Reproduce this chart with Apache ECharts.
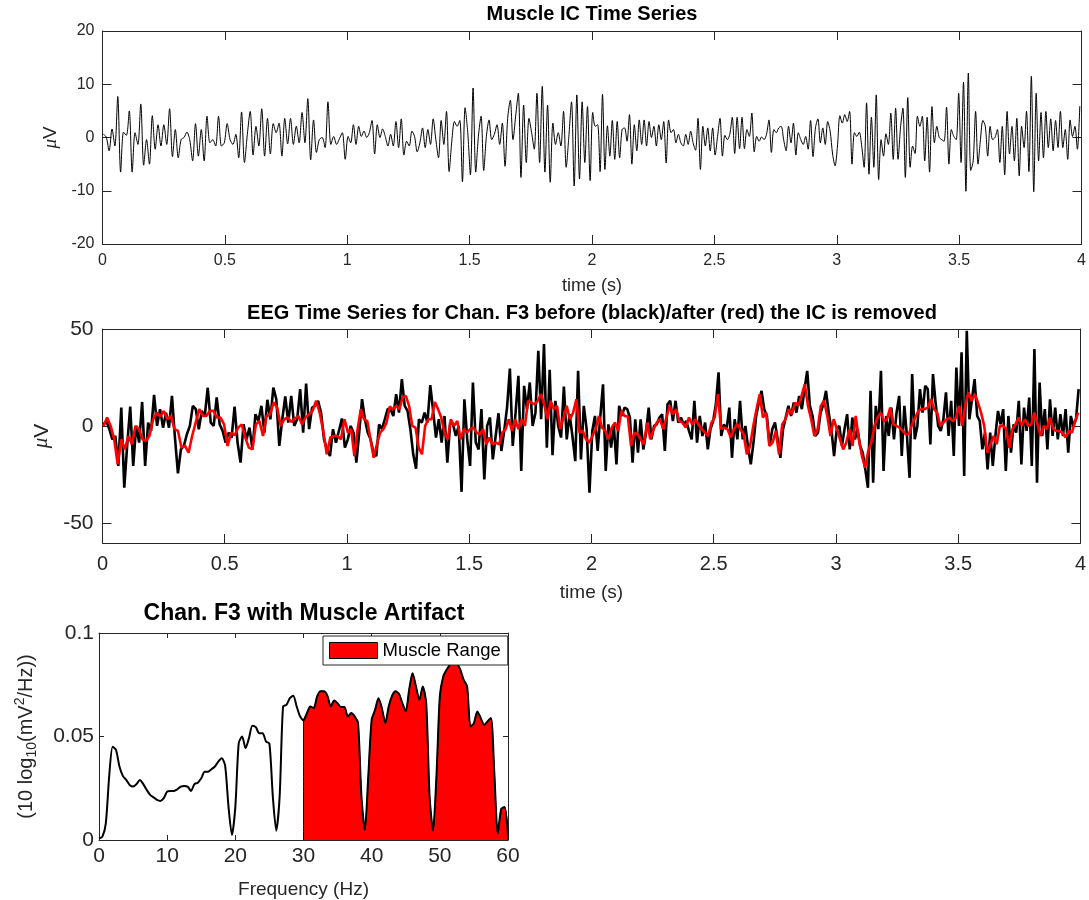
<!DOCTYPE html>
<html>
<head>
<meta charset="utf-8">
<title>Muscle IC and EEG</title>
<script src="https://cdn.jsdelivr.net/npm/echarts@6/dist/echarts.min.js"></script>
<style>
  html, body { margin: 0; padding: 0; background: #fff; }
  #chart { width: 1089px; height: 900px; }
</style>
</head>
<body>
<div id="chart"></div>
<script>
// ---------- data ----------
// Muscle IC activation (µV), one array per second of signal, samples evenly spaced in time
const icSec1 = [0.6,0.1,-2.5,1.6,-1.6,7.7,-6.5,1.0,0.4,5.0,-6.5,0.9,-1.3,6.3,-5.2,-0.4,-5.0,4.1,-2.2,2.4,-1.6,2.4,-1.3,5.4,-3.6,1.5,-3.8,-0.4,0,1.0,-0.4,-4.4,2.6,-3.5,1.5,-4.4,4.0,-1.0,-0.4,-1.6,4.0,-1.6,-1.0,2.6,-0.4,-1.3,0.6,-3.8,4.8,-4.7,0.6,4.9,-3.3,2.1,-1.6,5.4,-3.5,3.6,-3.1,2.6,0.9,2.7,-3.5,3.6,-1.2,3.6,-1.3,2.1,-1.0,4.7,-1.0,7.3,-4.2,3.3,-2.8,-0.4,0,-1.9,6.7,-1.3,0.2,-1.3,-0.2,0.9,-4.1];
const icSec2 = [0.2,-1.0,2.4,-1.3,2.1,0.2,1.2,0,0.9,3.2,-3.1,2.4,0,1.6,0.2,-1.6,0.6,-1.6,3.0,-1.9,3.5,-3.3,-0.7,-1.6,1.2,0.2,-2.7,-1.0,1.8,-1.9,1.5,-1.3,3.5,-0.4,-3.8,3.2,-1.3,4.9,-6.4,-0.7,3.0,2.1,3.2,-8.3,5.6,0.9,-7.0,9.3,-6.5,0.2,4.0,-6.2,0.2,3.3,-0.4,0.6,2.4,-1.3,2.7,-5.4,3.6,7.0,-0.4,4.0,8.3,-7.5,6.1,-4.7,3.6,0.9,-2.2,8.3,-4.7,9.6,-6.5,6.1,-8.4,2.7,-1.3,0.9,-1.6,4.9,-5.6,0.2,6.7,-9.1,8.0,-7.8,6.7,-4.7,5.8,-8.1];
const icSec3 = [4.7,2.1,2.4,-6.4,8.1,-6.0,2.2,-3.5,3.2,-4.1,3.0,-3.8,1.5,1.8,-0.7,4.3,-5.0,2.4,-2.5,3.3,-1.3,3.3,-1.6,3.0,0,2.1,-1.6,2.4,-0.4,3.0,-4.8,3.3,0.9,1.5,-1.0,0.6,-1.0,-1.6,0.6,-1.3,1.2,-1.0,-2.4,3.6,-6.0,2.1,-1.6,1.8,-2.5,1.8,-3.3,0.2,3.6,-3.5,0.4,-0.4,0.6,3.8,-3.0,3.8,-2.1,3.8,-2.1,1.5,0.2,4.6,-2.7,0.2,-0.7,0.1,-0.4,0.6,3.3,-2.8,1.5,0.9,1.8,2.1,-0.4,-2.5,2.1,-1.0,2.7,-3.3,0.9,-0.4,-1.3,0.2,-2.2,3.2,-3.6,1.8,3.5,-1.0,1.8,-1.3,3.0,1.2,-3.1,-5.3];
const icSec4 = [-1.6,4.1,2.7,4.3,3.0,4.9,-5.0,0.9,0.2,1.0,-1.6,-5.6,6.5,-6.9,3.8,-5.6,8.0,-7.9,-0.4,-3.5,0.7,-1.3,4.6,-4.1,5.5,-4.1,1.8,5.5,-7.5,7.5,-5.6,-1.6,-3.0,4.0,2.1,4.0,-4.4,3.8,-6.5,5.8,-1.0,2.1,0,-0.4,-0.7,5.7,-5.0,1.5,0.2,-0.4,8.3,-4.7,10.4,-10.1,12.1,-6.2,-4.4,4.9,-5.0,-0.4,3.2,2.1,-3.5,2.1,-0.4,0,1.5,-4.7,2.1,-7.0,4.9,-3.1,2.1,-4.4,3.6,-7.2,2.1,-1.9,4.9,-6.4,11.5,-10.2,8.3,-4.4,4.7,-3.8,4.9,-1.9,3.5,-2.5,3.2,-1.9,4.9,-1.9,1.5,-4.1,3.3,0.2,2.1,-2.2,5.9];

// Channel F3 before IC removal (µV)
const f3BeforeSec1 = [1.0,2.7,-1.5,-6.7,-5.0,-20.4,9.6,-31.6,-9.3,10.1,-20.4,0.2,-8.4,12.5,-20.4,1.9,-2.4,16.2,0.2,8.8,-0.7,7.0,-0.7,15.6,-5.8,-24.2,-11.9,-10.1,-4.1,0.2,10.5,8.8,-1.5,7.9,5.3,19.8,1.9,0.2,14.8,1.0,-2.4,-8.4,-3.3,-5.8,10.1,-8.4,-18.7,1.0,-6.7,-0.7,-11.9,6.2,2.7,10.5,-3.3,13.6,3.6,19.9,13.9,-10.1,3.6,15.3,1.9,15.6,0.2,3.6,19.1,-3.3,22.0,-1.5,9.6,10.5,13.1,7.0,-6.7,-11.9,-15.3,-1.5,-8.4,-2.4,4.0,-11.0];
const f3BeforeSec2 = [-6.7,0.2,-3.3,-18.7,-3.3,13.9,3.6,-3.3,-6.7,-13.6,-15.3,1.0,-1.5,3.6,8.8,8.8,5.3,16.5,7.0,24.2,10.5,7.9,-1.5,-14.4,-21.8,3.6,1.9,7.0,1.9,21.1,7.9,-5.8,3.6,-8.4,5.3,-18.7,1.9,1.0,-5.0,0.2,-33.7,13.9,-6.7,-20.4,22.5,-8.4,-11.9,8.8,-27.3,0.2,4.5,-17.0,-5.0,6.7,-12.7,-2.4,9.6,29.7,-10.1,7.0,25.9,-23.0,20.8,8.8,22.5,0.2,7.0,38.8,3.6,42.3,-11.0,29.0,-14.9,13.1,0.2,-5.8,20.4,-6.7,6.2,-5.0,-17.9,28.5,-17.0,10.5,-1.5,-34.2];
const f3BeforeSec3 = [-2.4,5.3,-12.7,5.3,21.6,-23.0,1.0,-11.0,1.0,-19.6,10.5,5.3,9.6,8.8,4.5,-18.7,3.6,-13.6,3.6,-11.9,-3.3,9.6,-6.7,0.2,1.0,4.5,6.2,-12.7,11.3,13.1,2.7,13.1,1.9,4.5,1.0,2.7,-2.4,-6.7,13.1,-8.4,5.3,-5.0,1.9,-11.9,-1.5,2.7,11.3,27.7,-5.0,1.0,-1.5,9.6,-16.2,3.6,-6.7,13.1,-6.7,0.2,-11.0,-19.6,-8.4,5.3,12.2,18.2,8.8,5.3,-10.1,-1.5,1.9,-6.7,-16.2,-1.5,4.5,10.5,5.3,12.2,7.0,15.6,8.8,19.1,28.5,10.5,5.3,-5.0,-3.3,7.0,11.3,18.2,7.0,-1.5,-15.3];
const f3BeforeSec4 = [-1.5,0.2,-10.1,-1.5,6.2,-11.9,4.5,-6.7,-1.5,-10.1,-13.6,-22.2,-31.6,18.2,-29.0,10.5,-1.5,28.5,-23.0,5.3,-5.0,9.6,-6.7,7.0,15.6,-15.3,10.5,-5.0,-26.5,26.8,-6.7,0.2,19.1,7.0,20.8,19.1,-9.3,26.8,12.2,0.2,-2.4,3.6,17.4,-5.0,13.1,-15.3,30.2,0.2,38.0,-25.6,49.1,3.6,13.9,24.2,5.3,2.7,-11.9,-3.3,-22.2,-3.3,-20.4,-5.0,7.9,1.0,8.8,-23.0,5.3,-13.6,1.0,-3.3,13.1,-19.6,9.6,-2.4,14.8,-20.4,39.7,-29.0,22.5,-5.0,8.8,-11.9,13.9,-5.0,9.6,-6.7,6.2,-5.0,8.8,-13.6,5.3,0.2,3.6,19.1];

// Channel F3 after IC removal (µV)
const f3AfterSec1 = [0.2,4.5,0.2,-6.7,-19.6,-6.7,-11.9,-5.0,-9.3,0.2,-1.5,-6.7,-7.6,-4.6,3.6,7.0,5.0,7.9,3.6,5.3,-1.5,-2.4,-11.0,-10.1,-13.6,-5.0,1.9,8.8,5.3,5.3,7.9,7.9,4.5,4.5,1.0,-10.1,-3.3,-4.6,-0.7,1.0,-5.8,-11.0,-11.9,1.0,2.7,-5.0,5.3,6.2,12.2,9.6,0.2,3.6,4.5,2.2,4.0,5.3,1.0,4.5,6.2,7.9,13.1,7.0,-2.4,-14.4,-5.8,-5.0,-5.0,-6.7,3.6];
const f3AfterSec2 = [-3.3,-1.5,-15.3,-1.5,8.8,3.6,2.7,-6.7,-16.2,-9.3,-3.3,-1.5,1.9,10.1,8.8,10.5,8.8,14.8,15.6,10.5,0.2,-0.7,-11.0,-14.4,0.2,3.6,3.6,12.5,8.8,4.5,-3.3,-6.7,3.6,0.2,2.7,-6.7,-1.5,-3.3,-1.5,-0.7,-3.3,-4.1,-1.5,-9.3,-5.8,-9.3,-8.4,-9.3,-3.3,-1.5,3.6,-2.4,3.6,-1.5,3.6,0.2,13.1,12.2,11.3,13.1,16.5,11.3,3.6,13.1,8.8,10.5,-1.5,4.5,10.5,3.6,7.0,13.9,-3.3,-2.4,-6.7,-8.4];
const f3AfterSec3 = [-5.0,-1.5,5.3,-0.7,-2.4,-6.7,-0.7,1.9,-2.4,7.9,5.3,5.0,-10.1,-3.3,-4.1,-6.7,-9.3,1.9,-6.7,-1.5,1.9,3.6,-1.5,4.5,10.5,6.2,8.8,2.7,1.9,-0.7,4.5,1.0,3.6,1.0,-1.5,-3.3,-5.0,1.9,4.5,16.5,-1.5,-0.7,-1.5,-5.8,-1.5,1.0,-1.5,-4.1,-14.4,-10.1,0.2,8.8,16.5,4.5,7.0,-10.1,-8.4,-2.4,-14.4,1.0,3.6,8.8,6.2,12.2,10.5,15.6,21.6,10.5,3.6,-5.0,-1.5,10.5,13.1,5.3,-5.0,3.6];
const f3AfterSec4 = [-1.5,-6.7,-11.9,-8.4,-1.5,-10.1,5.3,-6.7,-15.3,-21.3,-12.7,-8.4,0.2,4.5,7.0,2.7,3.6,9.6,1.0,0.2,-0.7,-2.4,-4.1,-4.1,1.0,4.5,7.9,8.8,8.8,9.6,13.9,8.8,7.0,0.2,1.9,3.6,4.5,2.7,4.5,10.5,0.2,11.3,17.4,13.1,16.5,12.2,7.0,0.2,-13.6,-9.3,-5.0,-9.3,0.2,0.2,-1.5,-11.0,-1.5,1.0,4.5,0.2,3.6,0.2,1.0,7.0,1.0,-5.0,0.2,-1.5,4.5,-1.5,-2.4,-2.4,-3.3,-5.8,-2.4,-3.3,2.7,7.0];

// Power spectrum of F3, 0–60 Hz in 0.5 Hz bins
const specStepHz = 0.5;
const specPower = [0.0008,0.0016,0.008,0.031,0.045,0.0435,0.0355,0.031,0.029,0.0266,0.0258,0.027,0.029,0.027,0.0242,0.0218,0.0206,0.0194,0.0189,0.0202,0.0234,0.0237,0.0237,0.0245,0.0258,0.0261,0.0258,0.0237,0.027,0.0277,0.0298,0.033,0.033,0.0342,0.0355,0.0379,0.0395,0.036,0.016,0.0024,0.016,0.0468,0.05,0.0444,0.0492,0.0552,0.0545,0.0516,0.0516,0.0476,0.0465,0.021,0.0045,0.021,0.0645,0.0653,0.0685,0.0697,0.0645,0.0597,0.0577,0.0613,0.0645,0.0637,0.0694,0.0718,0.0718,0.0697,0.0645,0.0674,0.0661,0.0642,0.0642,0.0597,0.0613,0.0597,0.0565,0.021,0.0048,0.0306,0.0581,0.0629,0.0685,0.0637,0.0565,0.0645,0.0697,0.0718,0.0706,0.0661,0.0621,0.0726,0.0806,0.0742,0.0677,0.0742,0.0661,0.021,0.0045,0.0306,0.0694,0.079,0.0823,0.0847,0.0863,0.0855,0.0823,0.0774,0.0742,0.0548,0.0565,0.0621,0.0589,0.0556,0.0573,0.0589,0.032,0.003,0.015,0.016,0.002];
const muscleRange = [30, 60];

// axis ticks
const timeTicks = [0, 0.5, 1, 1.5, 2, 2.5, 3, 3.5, 4];
const icTicks = [-20, -10, 0, 10, 20];
const eegTicks = [-50, 0, 50];
const freqTicks = [0, 10, 20, 30, 40, 50, 60];
const powerTicks = [0, 0.05, 0.1];

// ---------- helpers ----------
function secondsToPairs(segments) {
  const out = [];
  segments.forEach((seg, k) => {
    const n = seg.length;
    seg.forEach((v, i) => out.push([k + (i + 0.3) / n, v]));
  });
  return out;
}
const icData = secondsToPairs([icSec1, icSec2, icSec3, icSec4]);
const beforeData = secondsToPairs([f3BeforeSec1, f3BeforeSec2, f3BeforeSec3, f3BeforeSec4]);
const afterData = secondsToPairs([f3AfterSec1, f3AfterSec2, f3AfterSec3, f3AfterSec4]);
const specData = specPower.map((p, i) => [i * specStepHz, p]);
const muscleData = [[muscleRange[0], 0]]
  .concat(specData.filter(d => d[0] >= muscleRange[0] && d[0] <= muscleRange[1]))
  .concat([[muscleRange[1], 0]]);

const FONT = 'Liberation Sans, Arial, Helvetica, sans-serif';
const AX = '#262626';

function boxAxes(kind, grid, o) {
  // labelled axis + mirrored unlabelled axis so the plot is fully boxed with ticks on all sides
  const isX = kind === 'x';
  const base = {
    type: 'value', gridIndex: grid, min: o.min, max: o.max,
    axisLine: { show: true, onZero: false, lineStyle: { color: AX, width: 1 } },
    axisTick: { show: true, inside: true, length: o.tickLen, customValues: o.ticks, lineStyle: { color: AX, width: 1 } },
    splitLine: { show: false }
  };
  const main = Object.assign({}, base, {
    position: isX ? 'bottom' : 'left',
    axisLabel: { show: true, customValues: o.ticks, margin: o.margin, fontSize: o.fontSize, color: AX, fontFamily: FONT,
      showMinLabel: true, showMaxLabel: true },
    name: o.name, nameLocation: 'middle', nameGap: o.nameGap,
    nameTextStyle: Object.assign({ fontSize: o.nameSize, color: AX, fontFamily: FONT }, o.nameStyle || {})
  });
  const mirror = Object.assign({}, base, {
    position: isX ? 'top' : 'right',
    axisLabel: { show: false }
  });
  return [main, mirror];
}

const xAxes = [].concat(
  boxAxes('x', 0, { min: 0, max: 4, ticks: timeTicks, tickLen: 9, margin: 9, fontSize: 16, name: 'time (s)', nameGap: 33, nameSize: 18 }),
  boxAxes('x', 1, { min: 0, max: 4, ticks: timeTicks, tickLen: 9, margin: 11, fontSize: 20, name: 'time (s)', nameGap: 40, nameSize: 19 }),
  boxAxes('x', 2, { min: 0, max: 60, ticks: freqTicks, tickLen: 5, margin: 6, fontSize: 21, name: 'Frequency (Hz)', nameGap: 40, nameSize: 19 })
);
const muRich = { mu: { fontStyle: 'italic', fontFamily: 'Liberation Serif, DejaVu Serif, serif', color: AX } };
const yAxes = [].concat(
  boxAxes('y', 0, { min: -20, max: 20, ticks: icTicks, tickLen: 9, margin: 8, fontSize: 16, name: '{mu|\u03bc}V', nameGap: 39, nameSize: 19,
    nameStyle: { rich: { mu: Object.assign({ fontSize: 19 }, muRich.mu) } } }),
  boxAxes('y', 1, { min: -60, max: 50, ticks: eegTicks, tickLen: 9, margin: 9, fontSize: 21, name: '{mu|\u03bc}V', nameGap: 44, nameSize: 21,
    nameStyle: { rich: { mu: Object.assign({ fontSize: 21 }, muRich.mu) } } }),
  boxAxes('y', 2, { min: 0, max: 0.1, ticks: powerTicks, tickLen: 5, margin: 5, fontSize: 21,
    name: '(10 log{sub|10}(mV{sup|2}/Hz))', nameGap: 60, nameSize: 20,
    nameStyle: { rich: {
      sub: { fontSize: 14, verticalAlign: 'bottom', lineHeight: 12, color: AX, fontFamily: FONT },
      sup: { fontSize: 14, verticalAlign: 'top', lineHeight: 12, color: AX, fontFamily: FONT }
    }, lineHeight: 26 } })
);

const option = {
  animation: false,
  backgroundColor: '#ffffff',
  textStyle: { fontFamily: FONT },
  title: [
    { text: 'Muscle IC Time Series', left: 592, top: 4, textAlign: 'center', padding: 0,
      textStyle: { fontSize: 20, fontWeight: 'bold', color: '#000', fontFamily: FONT } },
    { text: 'EEG Time Series for Chan. F3 before (black)/after (red) the IC is removed', left: 592, top: 303, textAlign: 'center', padding: 0,
      textStyle: { fontSize: 20, fontWeight: 'bold', color: '#000', fontFamily: FONT } },
    { text: 'Chan. F3 with Muscle Artifact', left: 304, top: 602, textAlign: 'center', padding: 0,
      textStyle: { fontSize: 23, fontWeight: 'bold', color: '#000', fontFamily: FONT } }
  ],
  legend: {
    data: [{ name: 'Muscle Range', icon: 'rect' }],
    left: 323, top: 636, orient: 'horizontal',
    itemWidth: 48, itemHeight: 16,
    padding: [5, 7, 5, 6],
    borderColor: '#262626', borderWidth: 1, backgroundColor: '#ffffff',
    itemStyle: { color: '#ff0000', borderColor: '#000000', borderWidth: 1 },
    textStyle: { fontSize: 18.5, color: '#000', fontFamily: FONT },
    selectedMode: false
  },
  grid: [
    { left: 102.5, top: 31, width: 979, height: 213 },
    { left: 102.5, top: 329, width: 979, height: 214 },
    { left: 99, top: 633, width: 409, height: 207 }
  ],
  xAxis: xAxes,
  yAxis: yAxes,
  series: [
    { name: 'Muscle IC', type: 'line', xAxisIndex: 0, yAxisIndex: 0, data: icData,
      showSymbol: false, smooth: 0.3, lineStyle: { color: '#000', width: 1 } },
    { name: 'before', type: 'line', xAxisIndex: 2, yAxisIndex: 2, data: beforeData,
      showSymbol: false, lineStyle: { color: '#000', width: 2.6 } },
    { name: 'after', type: 'line', xAxisIndex: 2, yAxisIndex: 2, data: afterData,
      showSymbol: false, lineStyle: { color: '#ff0000', width: 2.6 } },
    { name: 'Muscle Range', type: 'line', xAxisIndex: 4, yAxisIndex: 4, data: muscleData,
      showSymbol: false, smooth: 0.25, color: '#ff0000',
      lineStyle: { color: '#000', width: 1 }, areaStyle: { color: '#ff0000', opacity: 1, origin: 0 } },
    { name: 'spectrum', type: 'line', xAxisIndex: 4, yAxisIndex: 4, data: specData,
      showSymbol: false, smooth: 0.25, lineStyle: { color: '#000', width: 2 } }
  ]
};

const chart = echarts.init(document.getElementById('chart'), null, { renderer: 'canvas' });
chart.setOption(option);
</script>
</body>
</html>
